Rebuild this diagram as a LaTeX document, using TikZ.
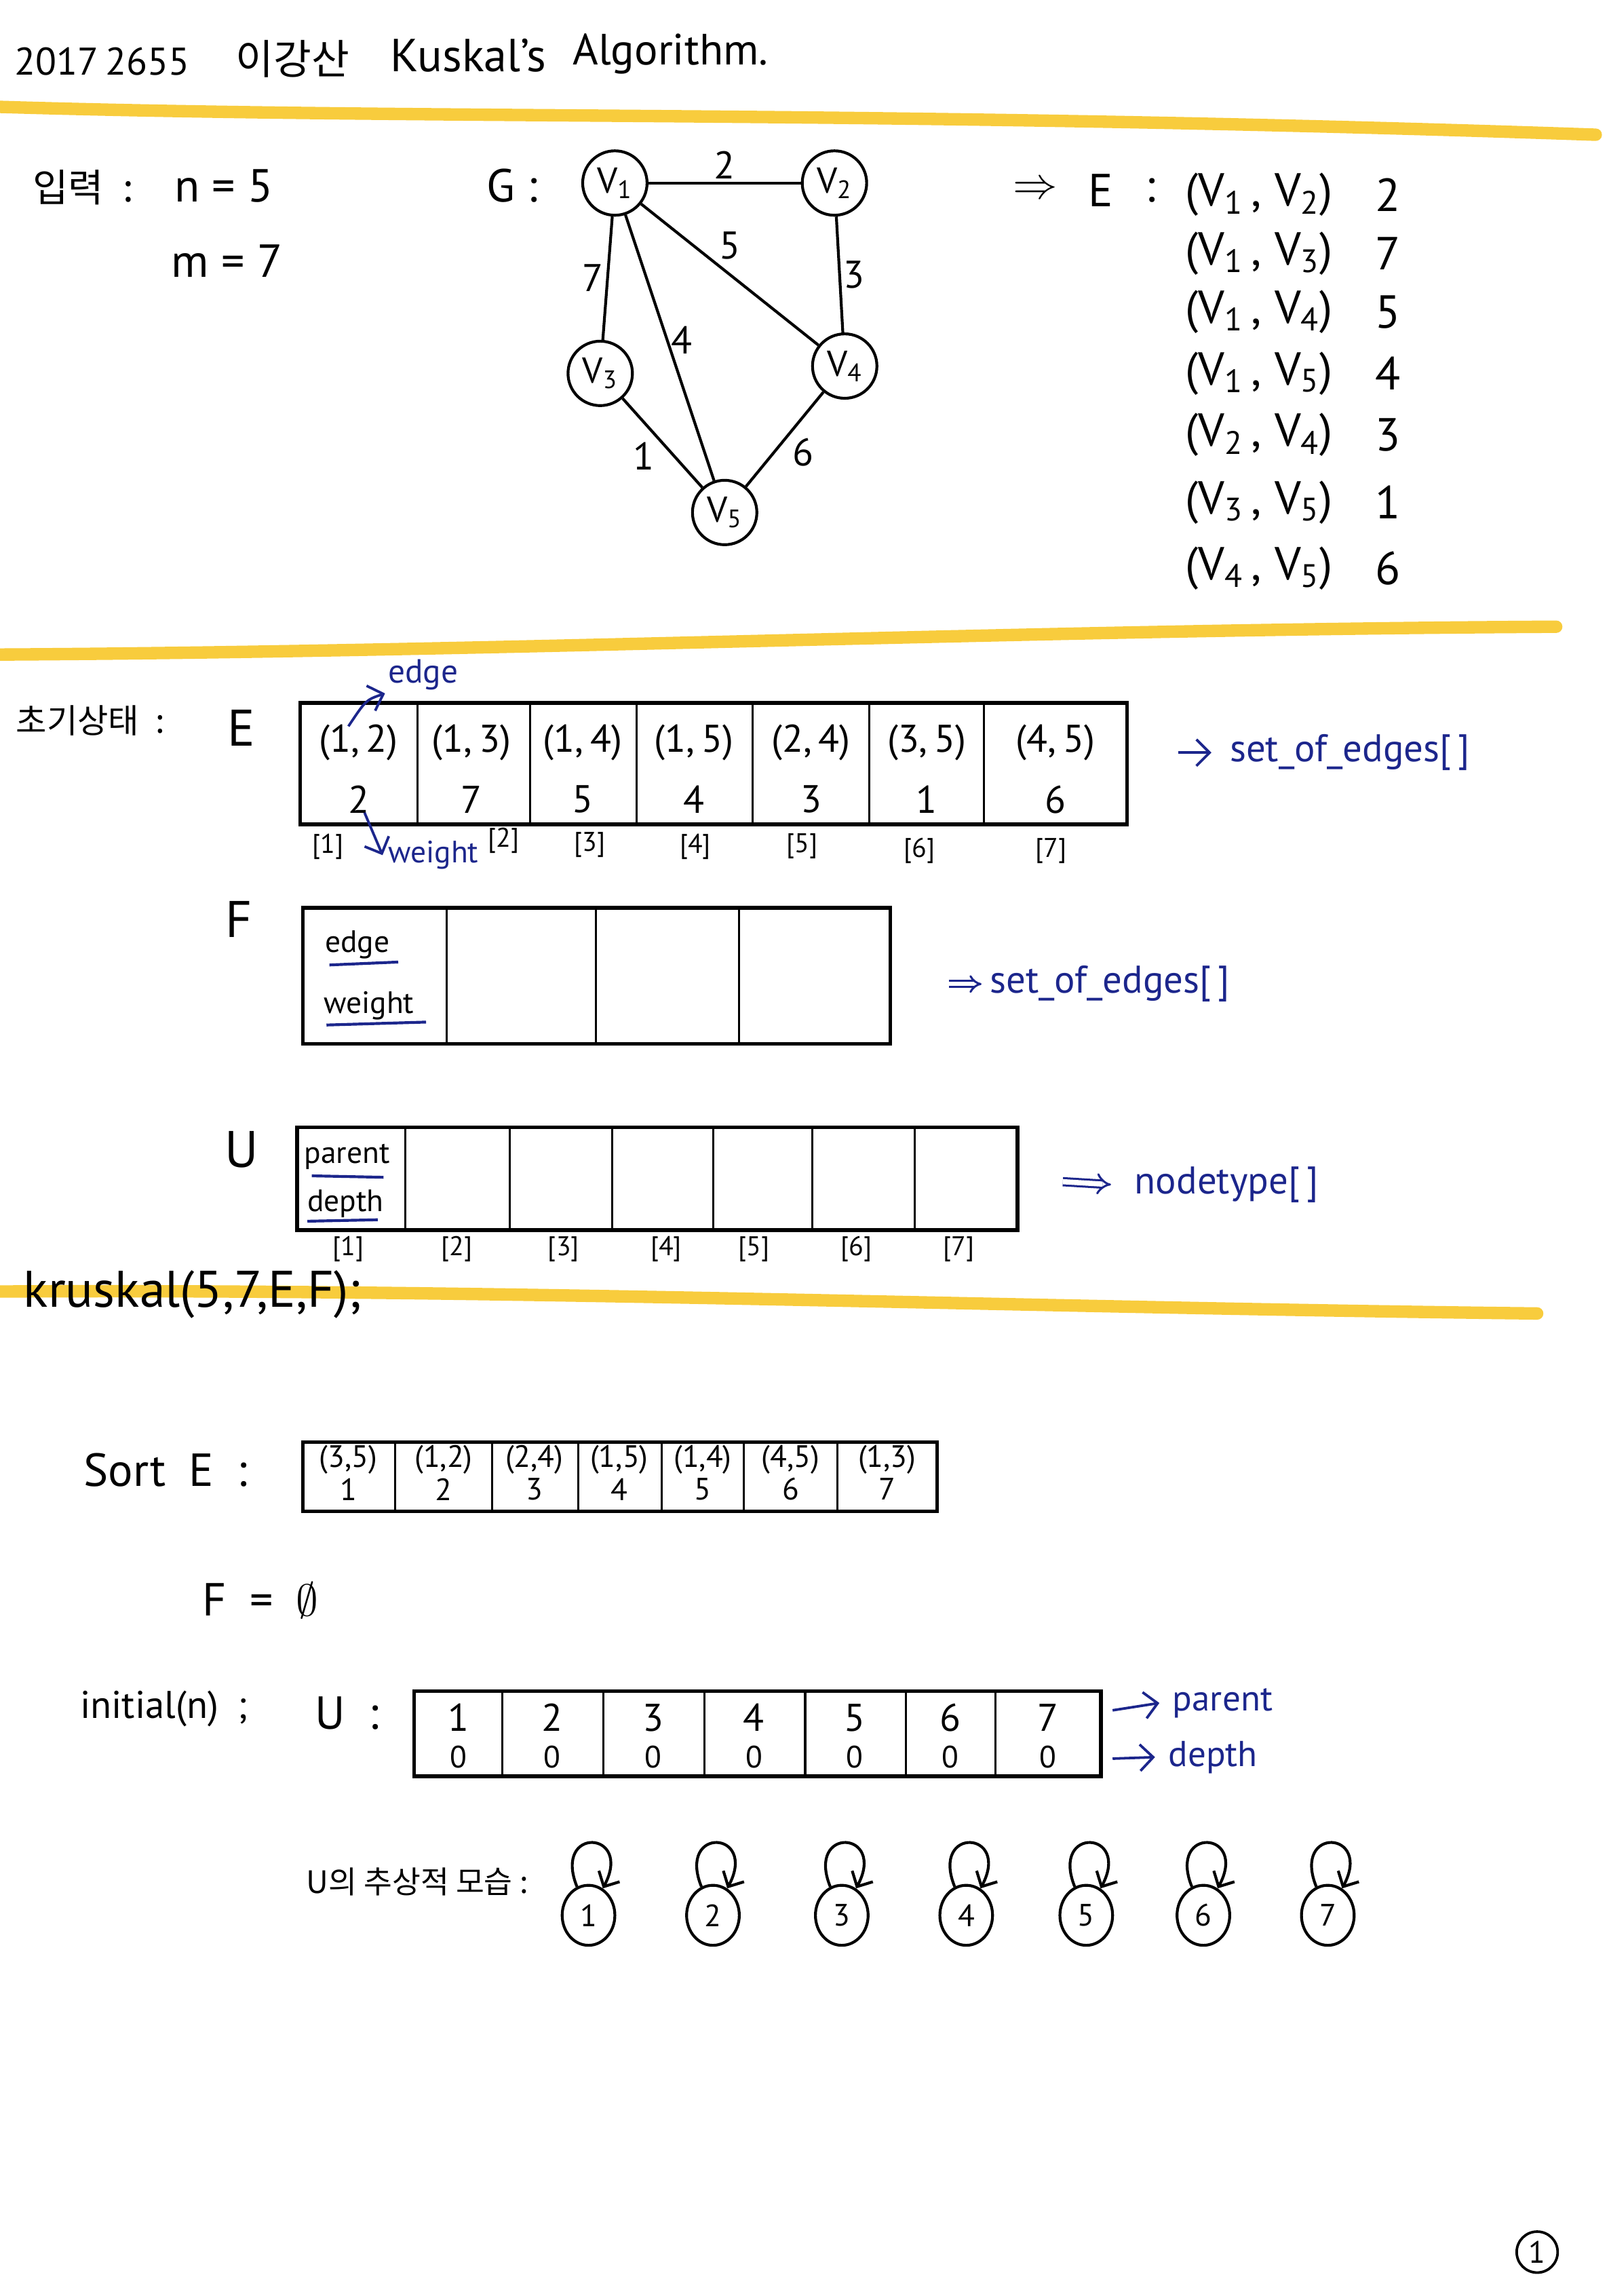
\documentclass[tikz,border=0pt]{standalone}
\usepackage{fontspec}
\setmainfont{PT Sans}
\newfontfamily\kr{Noto Sans CJK KR}
\usetikzlibrary{arrows.meta,shapes.geometric}
\definecolor{pen}{RGB}{28,38,140}
\definecolor{hilite}{RGB}{247,196,28}
\begin{document}
\begin{tikzpicture}[x=0.02cm,y=-0.02cm,
  every node/.style={inner sep=1pt},
  hl/.style={draw=hilite,line width=0.17cm,line cap=round,opacity=0.85},
  frame/.style={line width=1.4pt},
  divl/.style={line width=0.8pt},
  fbig/.style={font=\fontsize{18}{22}\selectfont},
  fmid/.style={font=\fontsize{15}{18}\selectfont},
  fsml/.style={font=\fontsize{12}{14}\selectfont},
  ftiny/.style={font=\fontsize{10.5}{12}\selectfont},
  bluenote/.style={text=pen,font=\fontsize{15}{18}\selectfont},
  vtx/.style={circle,draw,line width=1.1pt,minimum size=0.88cm,inner sep=0pt,font=\fontsize{14}{16}\selectfont},
  gedge/.style={line width=1.1pt},
  unode/.style={ellipse,draw,line width=1.1pt,minimum width=0.72cm,minimum height=0.82cm,inner sep=0pt,font=\fontsize{12}{14}\selectfont},
  uloop/.style={loop,out=112,in=62,min distance=0.9cm,line width=1.1pt,-{Straight Barb[length=1.6mm]}},
  parr/.style={pen,line width=1pt,-{Straight Barb[length=1.8mm]}},
  uline/.style={pen,line width=1.1pt}
]
\useasboundingbox[fill=white] (0,0) rectangle (1099,1568);

% highlighter lines
\draw[hl] (0,73) .. controls (300,82) and (600,75) .. (1090,92);
\draw[hl] (0,447) .. controls (350,445) and (700,430) .. (1063,428);
\draw[hl] (0,882) .. controls (350,880) and (700,893) .. (1050,897);

% header
\node[font=\fontsize{15}{18}\selectfont,anchor=west] (hid) at (8,42) {2017\,2655};
\node[font=\kr\fontsize{16}{19}\selectfont] (hname) at (200,40) {이강산};
\node[fbig] (htitle) at (320,38) {Kuskal's};
\node[font=\fontsize{17}{20}\selectfont] (halg) at (458,37) {Algorithm.};

% section 1
\node[font=\kr\fontsize{15}{18}\selectfont] (inp) at (57,128) {입력\enspace:};
\node[fbig] (nval) at (153,127) {n = 5};
\node[fbig] (mval) at (155,178) {m = 7};
\node[fbig] (glab) at (350,127) {G :};

\node[vtx] (v1) at (420,125) {V\textsubscript{1}};
\node[vtx] (v2) at (570,125) {V\textsubscript{2}};
\node[vtx] (v3) at (410,255) {V\textsubscript{3}};
\node[vtx] (v4) at (577,250) {V\textsubscript{4}};
\node[vtx] (v5) at (495,350) {V\textsubscript{5}};
\draw[gedge] (v1) -- node[above,fmid]{2} (v2);
\draw[gedge] (v1) -- node[left,fmid]{7} (v3);
\draw[gedge] (v1) -- node[pos=0.42,above right,fmid]{5} (v4);
\draw[gedge] (v1) -- node[pos=0.47,right,fmid]{4} (v5);
\draw[gedge] (v2) -- node[right,fmid]{3} (v4);
\draw[gedge] (v3) -- node[pos=0.45,below left,fmid]{1} (v5);
\draw[gedge] (v4) -- node[pos=0.45,below right,fmid]{6} (v5);

\node[fbig] (arrE) at (707,130) {$\Rightarrow$};
\node[fbig] (Elab) at (752,130) {E};
\node[fbig] (Ecol) at (786,130) {:};
\foreach \y/\a/\b/\w in {133/1/2/2, 173/1/3/7, 213/1/4/5, 255/1/5/4, 297/2/4/3, 343/3/5/1, 388/4/5/6}{
  \node[fbig] (el\a\b) at (860,\y) {(V\textsubscript{\a}\,,\;V\textsubscript{\b})};
  \node[fbig] (ew\a\b) at (948,\y) {\w};
}

% section 2 : initial state
\node[font=\kr\fontsize{13}{16}\selectfont] (init) at (62,492) {초기상태\enspace:};
\node[font=\fontsize{20}{24}\selectfont] (Etab) at (165,497) {E};
\draw[frame] (205,480) rectangle (770,563);
\foreach \x in {285,362,435,514,594,672} \draw[divl] (\x,480) -- (\x,563);
\foreach \x/\e/\w/\i in {245/{(1,\,2)}/2/1, 322/{(1,\,3)}/7/2, 398/{(1,\,4)}/5/3, 474/{(1,\,5)}/4/4, 554/{(2,\,4)}/3/5, 633/{(3,\,5)}/1/6, 721/{(4,\,5)}/6/7}{
  \node[fmid] (ee\i) at (\x,507) {\e};
  \node[fmid] (we\i) at (\x,546) {\w};
}
\foreach \x/\y/\i in {224/578/1, 344/574/2, 403/577/3, 475/578/4, 548/578/5, 628/581/6, 718/581/7}
  \node[ftiny] (ix\i) at (\x,\y) {[\i]};
\node[text=pen,font=\fontsize{13}{15}\selectfont] (edgenote) at (289,461) {edge};
\node[text=pen,font=\fontsize{12}{14}\selectfont] (wnote) at (296,584) {weight};
\coordinate (e0) at (238,496);
\coordinate (w0) at (249,555);
\draw[parr] (e0) .. controls (250,478) .. (edgenote.south west);
\draw[parr] (w0) -- ([xshift=-1pt]wnote.west);
\node[bluenote,anchor=west] (soe1) at (838,514) {set\_of\_edges[\,]};
\coordinate (s1) at (805,514);
\draw[parr] (s1) -- ([xshift=-6pt]soe1.west);

% F
\node[font=\fontsize{20}{24}\selectfont] (Ftab) at (163,628) {F};
\draw[frame] (207,620) rectangle (608,713);
\foreach \x in {305,407,505} \draw[divl] (\x,620) -- (\x,713);
\node[fsml] (fedge) at (244,645) {edge};
\node[fsml] (fweight) at (252,687) {weight};
\draw[uline] (225,659) -- (272,657);
\draw[uline] (223,700) -- (291,698);
\node[bluenote,anchor=west] (soe2) at (674,672) {set\_of\_edges[\,]};
\coordinate (s2) at (648,672);
\draw[pen,line width=0.8pt,double,double distance=1.5pt,-{Implies}] (s2) -- ([xshift=-2pt]soe2.west);

% U
\node[font=\fontsize{20}{24}\selectfont] (Utab) at (165,785) {U};
\draw[frame] (203,770) rectangle (695,840);
\foreach \x in {277,348,418,487,555,625} \draw[divl] (\x,770) -- (\x,840);
\node[fsml] (upar) at (237,790) {parent};
\node[fsml] (udep) at (236,822) {depth};
\draw[uline] (213,803) -- (262,804);
\draw[uline] (210,834) -- (258,833);
\foreach \x/\i in {238/1, 312/2, 385/3, 455/4, 515/5, 585/6, 655/7}
  \node[ftiny] (ux\i) at (\x,853) {[\i]};
\node[bluenote,anchor=west] (ntype) at (773,809) {nodetype[\,]};
\coordinate (s3) at (726,807);
\draw[pen,line width=0.8pt,double,double distance=2pt,-{Implies}] (s3) -- ([xshift=-8pt]ntype.west);

\node[font=\fontsize{20}{24}\selectfont,anchor=west] (kcall) at (14,884) {kruskal(5,7,E,F);};

% section 3
\node[fbig] (sortE) at (113,1004) {Sort\enspace E\enspace :};
\draw[frame] (207,985) rectangle (640,1032);
\foreach \x in {270,336,395,452,508,572} \draw[divl] (\x,985) -- (\x,1032);
\foreach \x/\e/\w in {238/{(3,5)}/1, 303/{(1,2)}/2, 365/{(2,4)}/3, 423/{(1,5)}/4, 480/{(1,4)}/5, 540/{(4,5)}/6, 606/{(1,3)}/7}{
  \node[fsml] (se\w) at (\x,997) {\e};
  \node[fsml] (sw\w) at (\x,1017) {\w};
}

\node[fbig] (Fempty) at (178,1093) {F\enspace=\enspace$\emptyset$};

\node[fmid] (initn) at (112,1167) {initial(n)\enspace;};
\node[fbig] (Ucol) at (237,1170) {U\enspace:};
\draw[frame] (283,1155) rectangle (752,1213);
\foreach \x in {343,412,481,550,619,680} \draw[divl] (\x,1155) -- (\x,1213);
\foreach \x/\i in {313/1, 377/2, 446/3, 515/4, 584/5, 649/6, 716/7}{
  \node[fmid] (up\i) at (\x,1173) {\i};
  \node[fsml] (ud\i) at (\x,1200) {0};
}
\node[text=pen,font=\fontsize{14}{17}\selectfont,anchor=west] (plab) at (799,1163) {parent};
\node[text=pen,font=\fontsize{14}{17}\selectfont,anchor=west] (dlab) at (796,1200) {depth};
\coordinate (p0) at (760,1168);
\coordinate (d0) at (760,1201);
\draw[parr] (p0) -- ([xshift=-4pt]plab.west);
\draw[parr] (d0) -- ([xshift=-4pt]dlab.west);

\node[font=\kr\fontsize{12}{15}\selectfont] (abs) at (285,1285) {U의 추상적 모습 :};
\foreach \x/\i in {402/1, 487/2, 575/3, 660/4, 742/5, 822/6, 907/7}{
  \node[unode] (n\i) at (\x,1308) {\i};
  \path (n\i) edge[uloop] (n\i);
}

% page number
\node[circle,draw,line width=1pt,minimum size=0.56cm,inner sep=0pt,font=\fontsize{12}{14}\selectfont] (pg) at (1050,1538) {1};
\end{tikzpicture}
\end{document}
